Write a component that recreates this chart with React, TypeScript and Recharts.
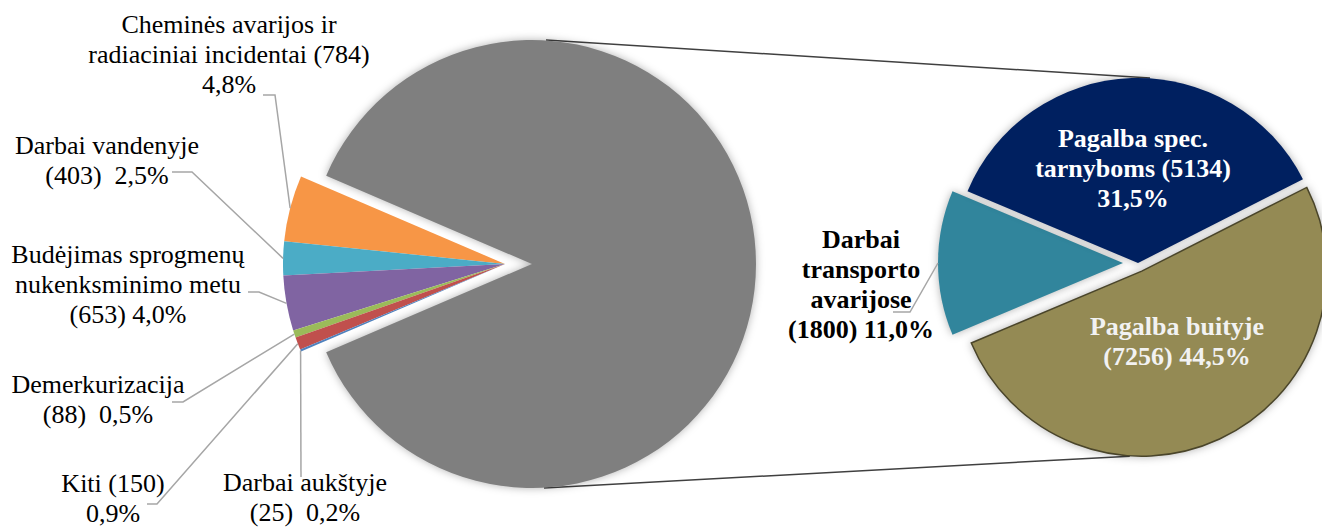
import React from "react";
import { PieChart, Pie, Cell, Customized } from "recharts";

// --- data ---
const smallNames = [
  "Cheminės avarijos ir\nradiaciniai incidentai",
  "Darbai vandenyje",
  "Budėjimas sprogmenų\nnukenksminimo metu",
  "Demerkurizacija",
  "Kiti",
  "Darbai aukštyje",
];
const smallValues = [784, 403, 653, 88, 150, 25];
const smallColors = ["#F79646", "#4BACC6", "#8064A2", "#9BBB59", "#C0504D", "#4F81BD"];

const detailNames = ["Darbai\ntransporto\navarijose", "Pagalba spec.\ntarnyboms", "Pagalba buityje"];
const detailValues = [1800, 5134, 7256];
const detailColors = ["#31859C", "#002060", "#948A54"];

const GREY = "#7F7F7F";
const sum = (a: number[]) => a.reduce((s, v) => s + v, 0);
const greyValue = sum(detailValues);
const grandTotal = greyValue + sum(smallValues);

const mainData = [
  { name: "Kita", value: greyValue },
  ...smallNames.map((n, i) => ({ name: n, value: smallValues[i] })),
];
const detailData = detailNames.map((n, i) => ({ name: n, value: detailValues[i] }));

// --- layout ---
const W = 1322;
const H = 531;
const FONT = '"Liberation Serif", "Times New Roman", serif';
const FS = 26;
const LH = 30;
const MAIN = { cx: 532, cy: 264, r: 224 };
const SMALL_SHIFT = 27;
const SUB = { cx: 1138, cy: 263, r: 185 };
const subExplode = [15, 0, 9];
const RAD = Math.PI / 180;

const mainStart = -(greyValue / grandTotal) * 180;
const subStart = 180 + (detailValues[0] / greyValue) * 180;

type LabelLayout = {
  x: number;
  y: number;
  fmt: string;
  lh?: number;
  color?: string;
  bold?: boolean;
  tail?: number[][];
};

const smallLabelLayout: LabelLayout[] = [
  { x: 229, y: 33, fmt: "{name} ({v})\n{p}", tail: [[263, 95], [275, 95]] },
  { x: 107, y: 154, fmt: "{name}\n({v})  {p}", tail: [[172, 172], [192, 172]] },
  { x: 128, y: 263, fmt: "{name}\n({v}) {p}", tail: [[248, 292], [259, 292]] },
  { x: 98, y: 393, fmt: "{name}\n({v})  {p}", tail: [[172, 402], [183, 402]] },
  { x: 113, y: 492, fmt: "{name} ({v})\n{p}", tail: [[147, 504], [157, 504]] },
  { x: 305, y: 491, fmt: "{name}\n({v})  {p}", tail: [[301, 477]] },
];

const detailLabelLayout: LabelLayout[] = [
  { x: 861, y: 248, fmt: "{name}\n({v}) {p}", color: "#000", bold: true, tail: [[893, 312], [910, 312]] },
  { x: 1133, y: 147, fmt: "{name} ({v})\n{p}", color: "#fff", bold: true },
  { x: 1177, y: 335, fmt: "{name}\n({v}) {p}", color: "#F2F2F2", bold: true },
];

const pct = (v: number) => ((v / grandTotal) * 100).toFixed(1).replace(".", ",") + "%";

function renderLabel(layout: LabelLayout | undefined, props: any) {
  if (!layout) return null;
  const { cx, cy, midAngle, outerRadius, name, value } = props;
  const text = layout.fmt.replace("{name}", name).replace("{v}", String(value)).replace("{p}", pct(value));
  const lines = text.split("\n");
  const lh = layout.lh || LH;
  let path = "";
  if (layout.tail) {
    const ax = cx + outerRadius * Math.cos(-midAngle * RAD);
    const ay = cy + outerRadius * Math.sin(-midAngle * RAD);
    const pts = [[ax, ay], ...[...layout.tail].reverse()];
    path = pts.map((p, i) => `${i ? "L" : "M"}${p[0]},${p[1]}`).join(" ");
  }
  return (
    <g>
      {path && <path d={path} fill="none" stroke="#A6A6A6" strokeWidth={1.5} />}
      <text
        x={layout.x}
        y={layout.y}
        textAnchor="middle"
        fontFamily={FONT}
        fontSize={FS}
        fontWeight={layout.bold ? "bold" : "normal"}
        fill={layout.color || "#000"}
        style={{ whiteSpace: "pre" }}
      >
        {lines.map((l, i) => (
          <tspan key={i} x={layout.x} dy={i === 0 ? 0 : lh}>
            {l}
          </tspan>
        ))}
      </text>
    </g>
  );
}

const shadow = { filter: "drop-shadow(0px 0px 4px rgba(0,0,0,0.3))" };

function subCenter(i: number) {
  const before = sum(detailValues.slice(0, i));
  const mid = subStart - ((before + detailValues[i] / 2) / greyValue) * 360;
  const d = subExplode[i];
  return { cx: SUB.cx + d * Math.cos(mid * RAD), cy: SUB.cy - d * Math.sin(mid * RAD) };
}

function Connectors() {
  const olive = subCenter(2);
  return (
    <g>
      <line x1={MAIN.cx + 14} y1={MAIN.cy - MAIN.r} x2={SUB.cx + 12} y2={SUB.cy - SUB.r} stroke="#404040" strokeWidth={1.5} />
      <line x1={MAIN.cx + 12} y1={MAIN.cy + MAIN.r} x2={olive.cx - 12} y2={olive.cy + SUB.r} stroke="#404040" strokeWidth={1.5} />
    </g>
  );
}

export default function App() {
  return (
    <div style={{ position: "absolute", left: 0, top: 0, width: W, height: H, background: "#fff" }}>
      <PieChart width={W} height={H} margin={{ top: 0, right: 0, bottom: 0, left: 0 }}>
        {/* grey "other" slice */}
        <Pie
          data={mainData}
          dataKey="value"
          cx={MAIN.cx}
          cy={MAIN.cy}
          outerRadius={MAIN.r}
          startAngle={mainStart}
          endAngle={mainStart + 360}
          stroke="none"
          labelLine={false}
          isAnimationActive={false}
        >
          {mainData.map((d, i) => (
            <Cell key={i} fill={i === 0 ? GREY : "none"} style={i === 0 ? shadow : undefined} />
          ))}
        </Pie>
        {/* small slices, pulled out to the left */}
        <Pie
          data={mainData}
          dataKey="value"
          cx={MAIN.cx - SMALL_SHIFT}
          cy={MAIN.cy}
          outerRadius={MAIN.r - 2}
          startAngle={mainStart}
          endAngle={mainStart + 360}
          stroke="none"
          labelLine={false}
          label={(p: any) => renderLabel(p.index > 0 ? smallLabelLayout[p.index - 1] : undefined, p)}
          isAnimationActive={false}
        >
          {mainData.map((d, i) => (
            <Cell key={i} fill={i === 0 ? "none" : smallColors[i - 1]} />
          ))}
        </Pie>
        {/* second pie, one series per exploded slice */}
        {detailData.map((_, k) => {
          const c = subCenter(k);
          return (
            <Pie
              key={k}
              data={detailData}
              dataKey="value"
              cx={c.cx}
              cy={c.cy}
              outerRadius={SUB.r}
              startAngle={subStart}
              endAngle={subStart - 360}
              labelLine={false}
              label={(p: any) => renderLabel(p.index === k ? detailLabelLayout[k] : undefined, p)}
              isAnimationActive={false}
            >
              {detailData.map((d, i) => (
                <Cell
                  key={i}
                  fill={i === k ? detailColors[i] : "none"}
                  stroke={i === k && k === 2 ? "#4A452A" : "none"}
                  strokeWidth={1.5}
                  style={i === k ? shadow : undefined}
                />
              ))}
            </Pie>
          );
        })}
        <Customized component={Connectors} />
      </PieChart>
    </div>
  );
}
